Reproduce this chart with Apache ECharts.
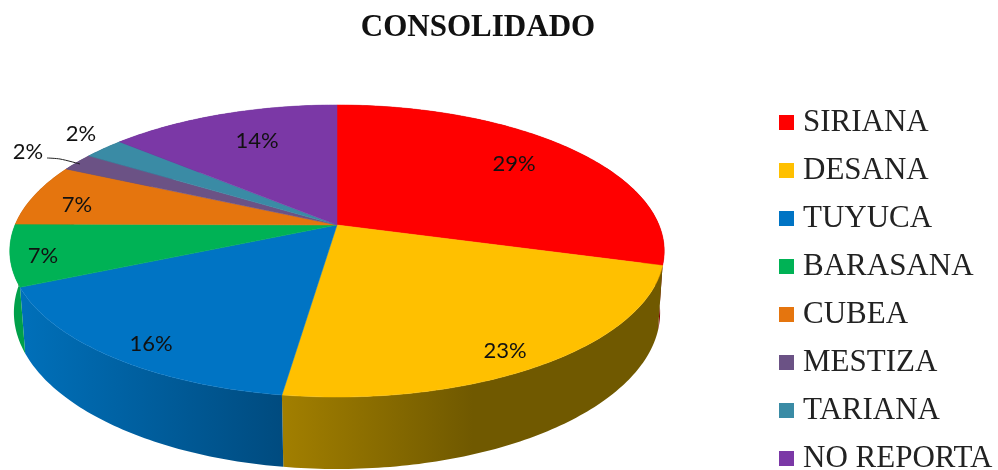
<!DOCTYPE html>
<html>
<head>
<meta charset="utf-8">
<style>
  html, body { margin: 0; padding: 0; background: #fff; }
  #main { width: 998px; height: 470px; }
</style>
<script src="https://cdn.jsdelivr.net/npm/echarts@6/dist/echarts.min.js"></script>
</head>
<body>
<div id="main"></div>
<script>
const names = ['SIRIANA', 'DESANA', 'TUYUCA', 'BARASANA', 'CUBEA', 'MESTIZA', 'TARIANA', 'NO REPORTA'];
// estimated from the slice edges, the labels show them rounded
const values = [29.4, 22.85, 16.05, 6.8, 6.9, 2.0, 2.4, 13.6];
const colors = ['#FF0000', '#FFC000', '#0074C4', '#00B255', '#E5750E', '#6B5285', '#3A8BA5', '#7B38A6'];
const wallColors = [
  [[0, '#800000'], [1, '#800000']],
  [[0, '#A27F00'], [0.5, '#705900'], [1, '#705900']],
  [[0, '#0070BA'], [1, '#004B7F']],
  [[0, '#00A04A'], [1, '#00A04A']],
  [[0, '#8A4306'], [1, '#8A4306']],
  [[0, '#40305A'], [1, '#40305A']],
  [[0, '#1F5666'], [1, '#1F5666']],
  [[0, '#4A2070'], [1, '#4A2070']]
];
// text centres of the percent labels, same order as names
const labelSpots = [[514, 164], [505, 351], [151, 344], [43, 256], [77, 205], [28, 152], [81, 134], [257, 141]];

var myChart = echarts.init(document.getElementById('main'));

// the disc is a circle seen in perspective
const apexX = 337, apexY = 225;
const radX = 322, radY = 141.4, persp = 0.178;

function project(pct, bottom) {
  let a = pct / 100 * 2 * Math.PI;
  let sx = Math.sin(a), sy = -Math.cos(a);
  let d = 1 - persp * sy;
  let x = radX * sx / d;
  let y = apexY + radY * sy / d;
  if (bottom) {
    x *= 0.975 + 0.015 * (1 - Math.abs(sy));
    y += 62 + 10 * sy;
  }
  return [apexX + x, y];
}

function arc(from, to, bottom) {
  let pts = [];
  let n = Math.max(2, Math.ceil((to - from) * 4));
  for (let i = 0; i <= n; i++) {
    pts.push(project(from + (to - from) * i / n, bottom));
  }
  return pts;
}

function sliceSeries(name, i) {
  let from = values.slice(0, i).reduce((s, v) => s + v, 0);
  let to = from + values[i];
  return {
    name: name,
    type: 'custom',
    coordinateSystem: 'none',
    silent: true,
    itemStyle: { color: colors[i] },
    data: [values[i]],
    renderItem: function () {
      let top = arc(from, to, false);
      let wall = top.concat(arc(from, to, true).reverse());
      let xs = wall.map(p => p[0]);
      let children = [
        {
          type: 'polygon',
          z2: 0,
          shape: { points: wall },
          style: {
            fill: new echarts.graphic.LinearGradient(
              Math.min.apply(null, xs), 0, Math.max.apply(null, xs), 0,
              wallColors[i].map(s => ({ offset: s[0], color: s[1] })), true)
          }
        },
        {
          type: 'polygon',
          z2: 1,
          shape: { points: [[apexX, apexY]].concat(top) },
          style: { fill: colors[i], stroke: colors[i], lineWidth: 0.5 }
        },
        {
          type: 'text',
          z2: 3,
          x: labelSpots[i][0],
          y: labelSpots[i][1],
          style: {
            text: Math.round(values[i]) + '%',
            fill: '#111',
            font: '22px Lato',
            align: 'center',
            verticalAlign: 'middle'
          }
        }
      ];
      // MESTIZA label sits off the disc, so it gets a leader
      if (name === 'MESTIZA') {
        children.push({
          type: 'polyline',
          z2: 3,
          shape: { points: [[47, 158], [60, 159], [80, 164]], smooth: 0.3 },
          style: { stroke: '#222', lineWidth: 1, fill: null }
        });
      }
      return { type: 'group', children: children };
    }
  };
}

var option = {
  animation: false,
  title: {
    text: 'CONSOLIDADO',
    left: 473,
    top: 7,
    textAlign: 'center',
    textStyle: { fontFamily: 'Liberation Serif', fontSize: 31, fontWeight: 'bold', color: '#111' }
  },
  legend: {
    orient: 'vertical',
    left: 779,
    top: 107,
    height: 400,
    padding: 0,
    icon: 'rect',
    itemWidth: 15,
    itemHeight: 15,
    itemGap: 17,
    selectedMode: false,
    data: names,
    textStyle: {
      fontFamily: 'Liberation Serif',
      fontSize: 31,
      lineHeight: 30,
      color: '#222',
      padding: [0, 0, 0, 4]
    }
  },
  series: names.map(sliceSeries)
};

myChart.setOption(option);
</script>
</body>
</html>
